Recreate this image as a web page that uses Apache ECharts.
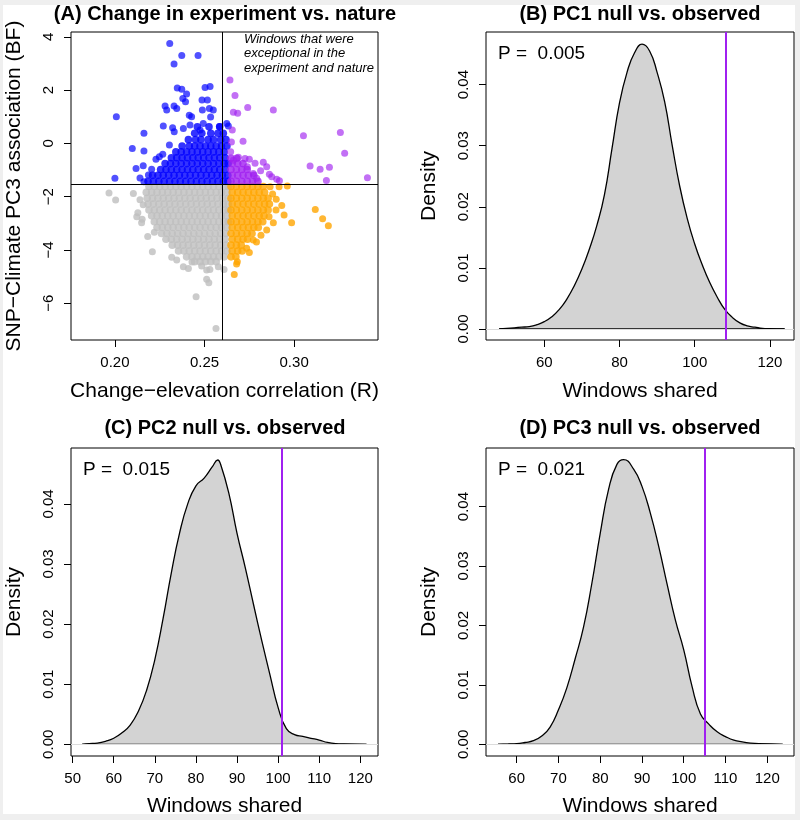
<!DOCTYPE html>
<html><head><meta charset="utf-8">
<script src="https://cdn.jsdelivr.net/npm/echarts@6/dist/echarts.min.js"></script>
<style>html,body{margin:0;padding:0;background:#efefef}#c{width:800px;height:820px}</style>
</head><body><div id="c"></div><script>
// ---------- Panel A: scatter data ----------
const cutR = 0.2639;   // vertical threshold (R)
const cutBF = -1.53;   // horizontal threshold (BF)

const grayRowY = [-1.62,-1.84,-2.06,-2.28,-2.50,-2.72,-2.94,-3.16,-3.38,-3.60,-3.82,-4.04,-4.26,-4.44];
const grayRowX = [
 [0.219,0.222,0.225,0.228,0.231,0.234,0.237,0.240,0.243,0.246,0.249,0.252,0.255,0.258,0.261,0.2632],
 [0.2175,0.2205,0.2235,0.2265,0.2295,0.2325,0.2355,0.2385,0.2415,0.2445,0.2475,0.2505,0.2535,0.2565,0.2595,0.2625],
 [0.218,0.221,0.224,0.227,0.230,0.233,0.236,0.239,0.242,0.245,0.248,0.251,0.254,0.257,0.260,0.2632],
 [0.2185,0.2215,0.2245,0.2275,0.2305,0.2335,0.2365,0.2395,0.2425,0.2455,0.2485,0.2515,0.2545,0.2575,0.2605,0.2632],
 [0.219,0.222,0.225,0.228,0.231,0.234,0.237,0.240,0.243,0.246,0.249,0.252,0.255,0.258,0.261,0.2632],
 [0.2205,0.2235,0.2265,0.2295,0.2325,0.2355,0.2385,0.2415,0.2445,0.2475,0.2505,0.2535,0.2565,0.2595,0.2625],
 [0.222,0.225,0.228,0.231,0.234,0.237,0.240,0.243,0.246,0.249,0.252,0.255,0.258,0.261,0.2632],
 [0.2235,0.2265,0.2295,0.2325,0.2355,0.2385,0.2415,0.2445,0.2475,0.2505,0.2535,0.2565,0.2595,0.2625],
 [0.226,0.229,0.232,0.235,0.238,0.241,0.244,0.247,0.250,0.253,0.256,0.259,0.262],
 [0.2285,0.2315,0.2345,0.2375,0.2405,0.2435,0.2465,0.2495,0.2525,0.2555,0.2585,0.2615],
 [0.232,0.235,0.238,0.241,0.244,0.247,0.250,0.253,0.256,0.259,0.262],
 [0.2355,0.2385,0.2415,0.2445,0.2475,0.2505,0.2535,0.2565,0.2595,0.2625],
 [0.240,0.243,0.246,0.249,0.252,0.255,0.258,0.261],
 [0.2445,0.2475,0.2505,0.2535,0.2565]
];
const grayScatter = [[0.1967,-1.86],[0.2004,-2.13],[0.2103,-1.88],[0.2140,-2.12],[0.2158,-2.30],[0.2122,-2.75],
 [0.2128,-2.60],[0.2152,-2.85],[0.2149,-2.98],[0.2183,-3.50],[0.2220,-3.34],[0.2209,-4.07],[0.2317,-4.27],
 [0.2345,-4.38],[0.2382,-4.63],[0.2410,-4.70],[0.2430,-4.45],[0.2484,-4.60],[0.2512,-4.75],[0.2530,-4.73],
 [0.2577,-4.63],[0.2609,-4.73],[0.2512,-5.10],[0.2524,-5.23],[0.2453,-5.76],[0.2564,-6.95]];

const blueRowY = [-1.42,-1.20,-0.98,-0.76,-0.54,-0.32,-0.10,0.14,0.38,0.62];
const blueRowX = [
 [0.2185,0.2215,0.2245,0.2275,0.2305,0.2335,0.2365,0.2395,0.2425,0.2455,0.2485,0.2515,0.2545,0.2575,0.2605,0.2630],
 [0.221,0.224,0.227,0.230,0.233,0.236,0.239,0.242,0.245,0.248,0.251,0.254,0.257,0.260,0.2630],
 [0.2255,0.2285,0.2315,0.2345,0.2375,0.2405,0.2435,0.2465,0.2495,0.2525,0.2555,0.2585,0.2615],
 [0.228,0.231,0.234,0.237,0.240,0.243,0.246,0.249,0.252,0.255,0.258,0.261,0.2632],
 [0.2315,0.2345,0.2375,0.2405,0.2435,0.2465,0.2495,0.2525,0.2555,0.2585,0.2615],
 [0.234,0.237,0.240,0.243,0.246,0.249,0.252,0.255,0.258,0.261],
 [0.2375,0.2415,0.2445,0.2475,0.2505,0.2535,0.2565,0.2595,0.2625],
 [0.241,0.245,0.248,0.252,0.255,0.259,0.262],
 [0.2445,0.2485,0.2535,0.2575,0.2605],
 [0.246,0.2525,0.2585]
];
const blueScatter = [[0.2306,3.75],[0.2373,3.30],[0.2330,2.98],[0.2464,3.30],[0.2348,2.08],[0.2373,2.03],
 [0.2400,1.85],[0.2379,1.68],[0.2394,1.56],[0.2503,2.10],[0.2531,2.13],[0.2486,1.63],[0.2516,1.63],
 [0.2008,1.00],[0.2280,1.40],[0.2330,1.40],[0.2345,1.31],[0.2289,1.25],[0.2415,1.06],[0.2428,1.00],
 [0.2488,1.25],[0.2527,1.31],[0.2549,1.25],[0.2270,0.65],[0.2322,0.59],[0.2382,0.56],[0.2331,0.44],
 [0.2419,0.69],[0.2162,0.38],[0.2475,0.50],[0.2493,0.75],[0.2534,0.99],[0.2583,0.63],[0.2624,0.75],
 [0.2633,0.65],[0.2097,-0.19],[0.2162,-0.29],[0.2304,-0.06],[0.2267,-0.41],[0.2000,-1.31],[0.2118,-0.94],
 [0.2158,-0.84],[0.2205,-0.97],[0.2229,-0.60],[0.2248,-0.50],[0.2162,-1.44],[0.2187,-1.19],[0.2140,-1.30]];

const purpleRowY = [-1.42,-1.20,-0.98,-0.76,-0.56];
const purpleRowX = [
 [0.2648,0.2678,0.2708,0.2738,0.2768,0.2798],
 [0.2655,0.2685,0.2715,0.2745,0.2775],
 [0.2648,0.2678,0.2708,0.2738],
 [0.2655,0.2685,0.2715],
 [0.2648,0.2680]
];
const purpleScatter = [[0.2642,2.38],[0.2670,1.80],[0.2661,1.17],[0.2685,1.13],[0.2741,1.35],[0.2884,1.25],
 [0.2655,0.50],[0.2715,0.08],[0.3052,0.29],[0.3258,0.41],[0.3282,-0.37],[0.3089,-0.85],[0.3145,-0.97],
 [0.3197,-0.90],[0.3180,-1.39],[0.3409,-1.29],[0.2661,-0.63],[0.2689,-0.52],[0.2726,-0.57],[0.2750,-0.60],
 [0.2782,-0.75],[0.2828,-0.71],[0.2847,-0.88],[0.2862,-1.16],[0.2903,-1.35],[0.2918,-1.40],[0.2875,-1.25],
 [0.2813,-1.03],[0.2772,-1.13],[0.2739,-0.88],[0.2791,-1.31],[0.2646,-0.31],[0.2650,0.05]];

const orangeRowY = [-1.62,-1.84,-2.06,-2.28,-2.50,-2.72,-2.94,-3.16,-3.38,-3.60,-3.82,-4.04,-4.26];
const orangeRowX = [
 [0.2648,0.2678,0.2708,0.2738,0.2768,0.2798,0.2828],
 [0.2655,0.2685,0.2715,0.2745,0.2775,0.2805,0.2835],
 [0.2648,0.2678,0.2708,0.2738,0.2768,0.2798,0.2828,0.2855],
 [0.2655,0.2685,0.2715,0.2745,0.2775,0.2805,0.2835,0.2862],
 [0.2648,0.2678,0.2708,0.2738,0.2768,0.2798,0.2828,0.2855],
 [0.2655,0.2685,0.2715,0.2745,0.2775,0.2805,0.2832],
 [0.2648,0.2678,0.2708,0.2738,0.2768,0.2798,0.2825],
 [0.2655,0.2685,0.2715,0.2745,0.2775,0.2800],
 [0.2648,0.2678,0.2708,0.2738,0.2765],
 [0.2655,0.2685,0.2715,0.2740],
 [0.2648,0.2678,0.2705],
 [0.2655,0.2685,0.2710],
 [0.2648,0.2675]
];
const orangeScatter = [[0.2962,-1.60],[0.2916,-1.63],[0.2866,-1.63],[0.2931,-2.33],[0.2944,-2.69],[0.2986,-2.98],
 [0.3118,-2.48],[0.3159,-2.83],[0.3191,-3.09],[0.2899,-2.50],[0.2884,-2.98],[0.2847,-3.25],[0.2772,-3.63],
 [0.2735,-3.94],[0.2683,-4.44],[0.2679,-4.53],[0.2666,-4.92],[0.2900,-2.10],[0.2880,-1.90],[0.2860,-2.75],
 [0.2815,-3.45],[0.2790,-3.70],[0.2750,-4.10]];

// ---------- Panels B-D: density curves ----------
const bX = [48,50,52,54,56,58,60,62,64,66,68,70,72,74,76,78,80,82,84,86,88,90,92,94,96,98,100,102,104,106,108,110,112,114,116,118,120,123.9];
const bY = [0,0.0001,0.0002,0.0003,0.0004,0.0007,0.0012,0.0020,0.0032,0.0049,0.0071,0.0098,0.0131,0.0170,0.0220,0.0295,0.0370,0.0420,0.0452,0.0466,0.0455,0.0420,0.0372,0.0301,0.0234,0.0181,0.0139,0.0105,0.0076,0.0052,0.0032,0.0019,0.0010,0.0005,0.0003,0.0001,0.00005,0];
const cX = [52.3,54,56,58,60,62,64,66,68,70,72,74,76,78,80,82,84,85.3,86,88,90,92,94,96,98,100,102,104,106,108,110,112,114,116,121.5];
const cY = [0,0.0001,0.0002,0.0005,0.0010,0.0019,0.0032,0.0055,0.0090,0.0141,0.0209,0.0285,0.0351,0.0400,0.0430,0.0443,0.0462,0.0473,0.0466,0.0418,0.0351,0.0294,0.0233,0.0173,0.0116,0.0061,0.0026,0.0016,0.0013,0.0010,0.0007,0.0003,0.0001,0.00005,0];
const dX = [55.5,58,60,62,64,66,68,70,72,74,76,78,80,82,84,85.6,88,90,92,94,96,98,100,102,104,106,108,110,112,114,116,118,123.7];
const dY = [0,0.00005,0.0001,0.0003,0.0006,0.0014,0.0029,0.0058,0.0095,0.0144,0.0197,0.0271,0.0355,0.0429,0.0471,0.0479,0.0463,0.0434,0.0389,0.0333,0.0270,0.0209,0.0159,0.0097,0.0051,0.0034,0.0021,0.0013,0.0007,0.0004,0.0002,0.0001,0];
const observed = [108.3, 101.0, 105.0];
const pValues = ['0.005','0.015','0.021'];

const ticksA_x = [0.20,0.25,0.30];
const ticksA_y = [-6,-4,-2,0,2,4];
const ticksB_x = [60,80,100,120];
const ticksC_x = [50,60,70,80,90,100,110,120];
const ticksD_x = [60,70,80,90,100,110,120];
const ticksDens_y = [0,0.01,0.02,0.03,0.04];

const titles = ['(A) Change in experiment vs. nature','(B) PC1 null vs. observed','(C) PC2 null vs. observed','(D) PC3 null vs. observed'];

// ---------- build ----------
const F = '"Liberation Sans", Arial, Helvetica, sans-serif';
function rows(ys, xs){ const out=[]; ys.forEach((y,i)=>xs[i].forEach(x=>out.push([x,y]))); return out; }
function zip(xs, ys){ return xs.map((x,i)=>[x,ys[i]]); }
const minus = v => String(v).replace('-', '\u2212');

function xAx(gi, min, max, ticks, fmt, name, gap){
  return {gridIndex:gi, type:'value', min, max, name, nameLocation:'middle', nameGap:gap,
    nameTextStyle:{fontSize:21, color:'#000', fontFamily:F},
    axisLine:{show:false, onZero:false},
    axisTick:{show:true, length:7, lineStyle:{color:'#000', width:1}, customValues:ticks},
    axisLabel:{show:true, customValues:ticks, formatter:fmt, fontSize:15, color:'#000', margin:15, fontFamily:F},
    splitLine:{show:false}};
}
function yAx(gi, min, max, ticks, fmt, name){
  return {gridIndex:gi, type:'value', min, max, name, nameLocation:'middle', nameGap:46,
    nameTextStyle:{fontSize:21, color:'#000', fontFamily:F},
    axisLine:{show:false, onZero:false},
    axisTick:{show:true, length:7, lineStyle:{color:'#000', width:1}, customValues:ticks},
    axisLabel:{show:true, customValues:ticks, formatter:fmt, rotate:90, fontSize:15, color:'#000', margin:15, fontFamily:F},
    splitLine:{show:false}};
}
const gridBase = {show:true, borderColor:'#000', borderWidth:1, backgroundColor:'transparent'};

function scat(data, fill, size){
  return {type:'scatter', xAxisIndex:0, yAxisIndex:0, data, symbolSize:size, silent:true,
    itemStyle:{color:fill, borderWidth:0}};
}
function dens(gi, xs, ys, obs){
  return [
    {type:'line', xAxisIndex:gi, yAxisIndex:gi, data:zip(xs,ys), smooth:0.5, symbol:'none', silent:true,
     lineStyle:{color:'#000', width:1.3}, areaStyle:{color:'#d3d3d3', opacity:1},
     markLine:{silent:true, symbol:'none', label:{show:false}, lineStyle:{color:'#dcdcdc', width:1, type:'solid'}, data:[{yAxis:0}]}},
    {type:'line', xAxisIndex:gi, yAxisIndex:gi, data:[[xs[0],0],[xs[xs.length-1],0]], symbol:'none', silent:true,
     lineStyle:{color:'#000', width:1.3},
     markLine:{silent:true, symbol:'none', label:{show:false}, lineStyle:{color:'#a020f0', width:2, type:'solid'}, data:[{xAxis:obs}]}}
  ];
}

const series = [
  scat(rows(grayRowY, grayRowX), '#bebebe', 7.6),
  scat(grayScatter, '#bebebe', 7),
  scat(rows(orangeRowY, orangeRowX), '#ffa500', 7.6),
  scat(orangeScatter, '#ffa500', 7),
  scat(rows(blueRowY, blueRowX), '#0000ff', 7.6),
  scat(blueScatter, 'rgba(0,0,255,0.85)', 7),
  scat(rows(purpleRowY, purpleRowX), '#a020f0', 7.6),
  Object.assign(scat(purpleScatter, 'rgba(160,32,240,0.8)', 7),
    {markLine:{silent:true, symbol:'none', label:{show:false}, lineStyle:{color:'#000', width:1, type:'solid'},
      data:[{xAxis:cutR},{yAxis:cutBF}]}})
].concat(dens(1,bX,bY,observed[0]), dens(2,cX,cY,observed[1]), dens(3,dX,dY,observed[2]));

const fmt2 = v => v.toFixed(2);
const txt = (x,y,text,font,align) => ({type:'text', x, y, silent:true, z:100,
  style:{text, font, fill:'#000', textAlign:align||'center', align:align||'center', textVerticalAlign:'middle', verticalAlign:'middle'}});

const option = {
  animation:false,
  backgroundColor:'#efefef',
  grid:[
    Object.assign({left:71, top:32, width:307, height:308}, gridBase),
    Object.assign({left:486, top:32, width:308, height:308}, gridBase),
    Object.assign({left:71, top:448, width:307, height:308}, gridBase),
    Object.assign({left:486, top:448, width:308, height:308}, gridBase)
  ],
  xAxis:[
    xAx(0, 0.1755, 0.3468, ticksA_x, v=>v.toFixed(2), 'Change\u2212elevation correlation (R)', 41),
    xAx(1, 44.5, 126.4, ticksB_x, v=>String(v), 'Windows shared', 41),
    xAx(2, 49.6, 124.3, ticksC_x, v=>String(v), 'Windows shared', 40),
    xAx(3, 52.65, 126.4, ticksD_x, v=>String(v), 'Windows shared', 40)
  ],
  yAxis:[
    yAx(0, -7.38, 4.18, ticksA_y, minus, 'SNP\u2212Climate PC3 association (BF)'),
    yAx(1, -0.0018, 0.0486, ticksDens_y, fmt2, 'Density'),
    yAx(2, -0.00195, 0.0493, ticksDens_y, fmt2, 'Density'),
    yAx(3, -0.00197, 0.04986, ticksDens_y, fmt2, 'Density')
  ],
  graphic:[
    {type:'rect', shape:{x:3, y:5, width:792, height:809}, style:{fill:'#fff'}, z:-100, silent:true},
    txt(225, 14, titles[0], 'bold 20px '+F),
    txt(640, 14, titles[1], 'bold 20px '+F),
    txt(225, 428, titles[2], 'bold 20px '+F),
    txt(640, 428, titles[3], 'bold 20px '+F),
    txt(498, 54, 'P =  '+pValues[0], '19px '+F, 'left'),
    txt(83, 470, 'P =  '+pValues[1], '19px '+F, 'left'),
    txt(498, 470, 'P =  '+pValues[2], '19px '+F, 'left'),
    txt(244, 39.5, 'Windows that were', 'italic 13px '+F, 'left'),
    txt(244, 53.7, 'exceptional in the', 'italic 13px '+F, 'left'),
    txt(244, 67.9, 'experiment and nature', 'italic 13px '+F, 'left')
  ],
  series
};
const chart = echarts.init(document.getElementById('c'), null, {renderer:'canvas'});
chart.setOption(option);
</script></body></html>
